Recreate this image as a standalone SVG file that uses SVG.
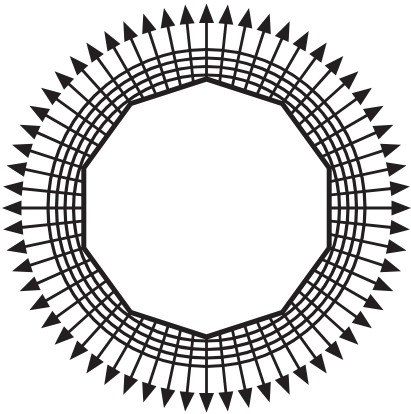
<svg xmlns="http://www.w3.org/2000/svg" width="411" height="414" viewBox="0 0 411 414">
<style>
.ring{fill:none;stroke:#231f20;stroke-width:3.2}
.shaft{stroke:#231f20;stroke-width:2.8}
.head{fill:#231f20}
.poly{fill:#fff;stroke:#231f20;stroke-width:5;stroke-linejoin:miter}
</style>
<defs>
<g id="arrow">
<line class="shaft" x1="0" y1="-118" x2="0" y2="-189"/>
<polygon class="head" points="0,-204.5 -7.5,-185 7.5,-185"/>
</g>
</defs>
<rect width="411" height="414" fill="#fff"/>
<g transform="translate(206.5,208)">
<g id="arrows">
<use href="#arrow" transform="rotate(0)"/><use href="#arrow" transform="rotate(6)"/><use href="#arrow" transform="rotate(12)"/><use href="#arrow" transform="rotate(18)"/><use href="#arrow" transform="rotate(24)"/><use href="#arrow" transform="rotate(30)"/><use href="#arrow" transform="rotate(36)"/><use href="#arrow" transform="rotate(42)"/><use href="#arrow" transform="rotate(48)"/><use href="#arrow" transform="rotate(54)"/>
<use href="#arrow" transform="rotate(60)"/><use href="#arrow" transform="rotate(66)"/><use href="#arrow" transform="rotate(72)"/><use href="#arrow" transform="rotate(78)"/><use href="#arrow" transform="rotate(84)"/><use href="#arrow" transform="rotate(90)"/><use href="#arrow" transform="rotate(96)"/><use href="#arrow" transform="rotate(102)"/><use href="#arrow" transform="rotate(108)"/><use href="#arrow" transform="rotate(114)"/>
<use href="#arrow" transform="rotate(120)"/><use href="#arrow" transform="rotate(126)"/><use href="#arrow" transform="rotate(132)"/><use href="#arrow" transform="rotate(138)"/><use href="#arrow" transform="rotate(144)"/><use href="#arrow" transform="rotate(150)"/><use href="#arrow" transform="rotate(156)"/><use href="#arrow" transform="rotate(162)"/><use href="#arrow" transform="rotate(168)"/><use href="#arrow" transform="rotate(174)"/>
<use href="#arrow" transform="rotate(180)"/><use href="#arrow" transform="rotate(186)"/><use href="#arrow" transform="rotate(192)"/><use href="#arrow" transform="rotate(198)"/><use href="#arrow" transform="rotate(204)"/><use href="#arrow" transform="rotate(210)"/><use href="#arrow" transform="rotate(216)"/><use href="#arrow" transform="rotate(222)"/><use href="#arrow" transform="rotate(228)"/><use href="#arrow" transform="rotate(234)"/>
<use href="#arrow" transform="rotate(240)"/><use href="#arrow" transform="rotate(246)"/><use href="#arrow" transform="rotate(252)"/><use href="#arrow" transform="rotate(258)"/><use href="#arrow" transform="rotate(264)"/><use href="#arrow" transform="rotate(270)"/><use href="#arrow" transform="rotate(276)"/><use href="#arrow" transform="rotate(282)"/><use href="#arrow" transform="rotate(288)"/><use href="#arrow" transform="rotate(294)"/>
<use href="#arrow" transform="rotate(300)"/><use href="#arrow" transform="rotate(306)"/><use href="#arrow" transform="rotate(312)"/><use href="#arrow" transform="rotate(318)"/><use href="#arrow" transform="rotate(324)"/><use href="#arrow" transform="rotate(330)"/><use href="#arrow" transform="rotate(336)"/><use href="#arrow" transform="rotate(342)"/><use href="#arrow" transform="rotate(348)"/><use href="#arrow" transform="rotate(354)"/>
</g>
<g id="rings">
<circle class="ring" r="133"/>
<circle class="ring" r="141.5"/>
<circle class="ring" r="150"/>
<circle class="ring" r="158.5"/>
</g>
<g id="decagon">
<polygon class="poly" points="0,-129 75.8,-104.4 122.7,-39.9 122.7,39.9 75.8,104.4 0,129 -75.8,104.4 -122.7,39.9 -122.7,-39.9 -75.8,-104.4"/>
</g>
</g>
</svg>
